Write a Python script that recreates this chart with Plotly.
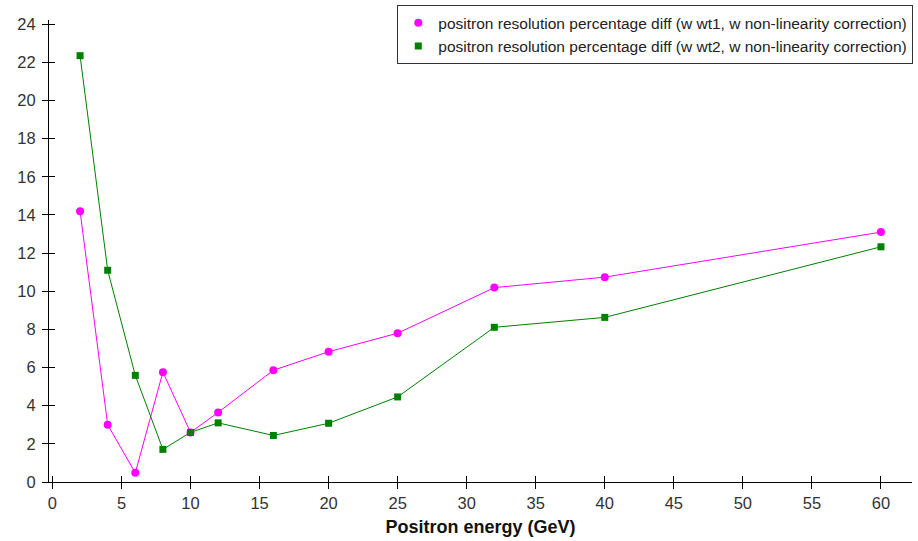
import plotly.graph_objects as go

energy = [2, 4, 6, 8, 10, 12, 16, 20, 25, 32, 40, 60]
wt1_diff = [14.2, 3.0, 0.48, 5.76, 2.6, 3.65, 5.86, 6.83, 7.8, 10.19, 10.74, 13.1]
wt2_diff = [22.35, 11.1, 5.59, 1.71, 2.6, 3.1, 2.44, 3.08, 4.46, 8.11, 8.63, 12.33]

name1 = "positron resolution percentage diff (w wt1, w non-linearity correction)"
name2 = "positron resolution percentage diff (w wt2, w non-linearity correction)"

x_ticks = list(range(0, 61, 5))
y_ticks = list(range(0, 25, 2))

W, H = 918, 541
L, R, T, B = 49.3, 913.0, 15.0, 482.0
xr = [-0.25, 62.25]
yr = [0, 24.22]

c1, c2 = "#ff00ff", "#008000"

fig = go.Figure()
# lines (not in legend)
fig.add_trace(go.Scatter(x=energy, y=wt1_diff, mode="lines", showlegend=False,
                         line=dict(color=c1, width=1), hoverinfo="skip"))
fig.add_trace(go.Scatter(x=energy, y=wt2_diff, mode="lines", showlegend=False,
                         line=dict(color=c2, width=1), hoverinfo="skip"))
# markers (legend shows symbol only)
fig.add_trace(go.Scatter(x=energy, y=wt1_diff, mode="markers", name=name1,
                         marker=dict(symbol="circle", size=8, color=c1)))
fig.add_trace(go.Scatter(x=energy, y=wt2_diff, mode="markers", name=name2,
                         marker=dict(symbol="square", size=7, color=c2)))
# empty trace so overlay axes (inner half of the crossing ticks) are drawn
fig.add_trace(go.Scatter(x=[], y=[], xaxis="x2", yaxis="y2", showlegend=False, hoverinfo="skip"))

font = "Liberation Sans, Arial, sans-serif"
axis_common = dict(showgrid=False, zeroline=False, showline=True, linecolor="black", linewidth=1,
                   ticks="outside", ticklen=6, tickcolor="black", tickwidth=1,
                   tickfont=dict(family=font, size=16.5, color="#333333"))

fig.update_layout(
    width=W, height=H,
    margin=dict(l=L, r=W - R, t=T, b=H - B),
    paper_bgcolor="white", plot_bgcolor="white",
    font=dict(family=font, color="#222222"),
    xaxis=dict(range=xr, tickmode="array", tickvals=x_ticks, ticktext=[str(v) for v in x_ticks],
               title=dict(text="<b>Positron energy (GeV)</b>", font=dict(family=font, size=18, color="#111111"),
                          standoff=9),
               **axis_common),
    yaxis=dict(range=yr, tickmode="array", tickvals=y_ticks, ticktext=[str(v) for v in y_ticks],
               ticklabelstandoff=3, **axis_common),
    xaxis2=dict(overlaying="x", anchor="y2", range=xr, tickmode="array", tickvals=x_ticks,
                showticklabels=False, ticks="inside", ticklen=6, tickcolor="black", tickwidth=1,
                showgrid=False, zeroline=False, showline=False, side="bottom"),
    yaxis2=dict(overlaying="y", anchor="x2", range=yr, tickmode="array", tickvals=y_ticks,
                showticklabels=False, ticks="inside", ticklen=6, tickcolor="black", tickwidth=1,
                showgrid=False, zeroline=False, showline=False, side="left"),
    legend=dict(x=1.0015, xanchor="right", y=1 + T / (B - T), yanchor="top",
                bgcolor="white", bordercolor="#333333", borderwidth=1,
                font=dict(family=font, size=15.5, color="#222222"),
                itemwidth=30, tracegroupgap=0),
    showlegend=True,
)

fig.write_html("out.html")
